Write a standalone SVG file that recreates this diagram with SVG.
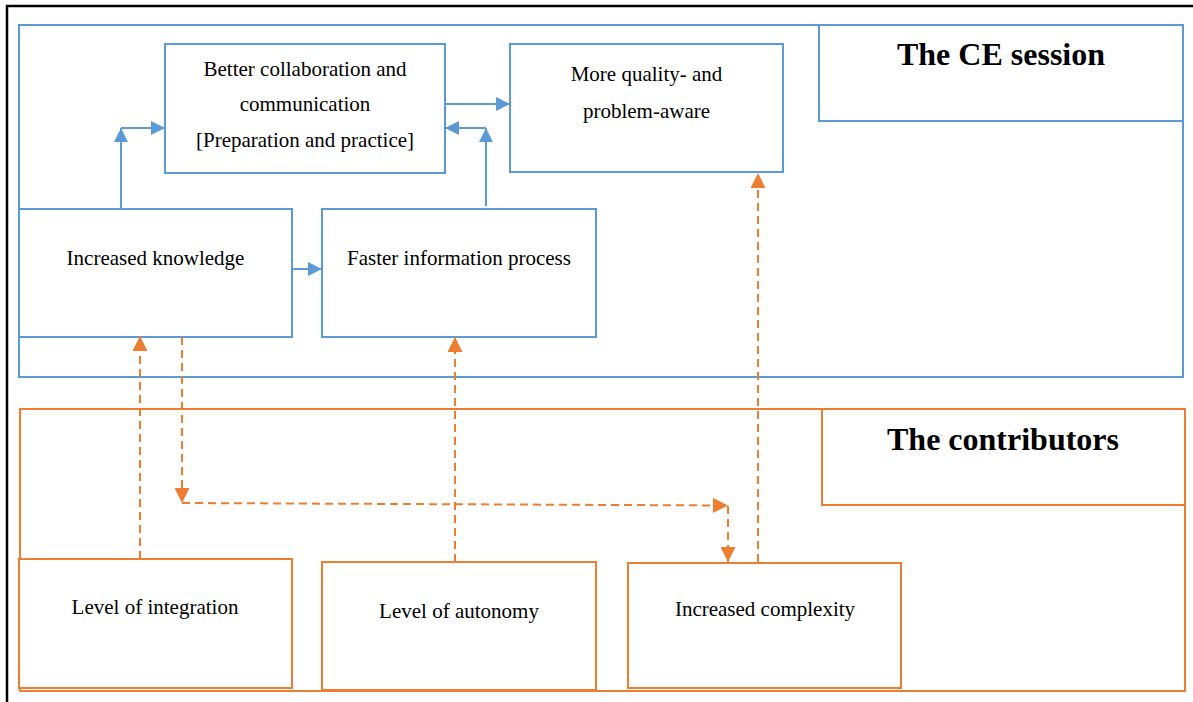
<svg xmlns="http://www.w3.org/2000/svg" width="1193" height="702" viewBox="0 0 1193 702">
<defs>
<style>
.frame{fill:none;stroke:#000;stroke-width:2.5}
.b{fill:#fff;stroke:#5B9BD5;stroke-width:2}
.bo{fill:none;stroke:#5B9BD5;stroke-width:2}
.o{fill:#fff;stroke:#ED7D31;stroke-width:2}
.oo{fill:none;stroke:#ED7D31;stroke-width:2}
.t{font-family:"Liberation Serif","Times New Roman",serif;font-size:21px;fill:#000;text-anchor:middle}
.h{font-family:"Liberation Serif","Times New Roman",serif;font-size:32px;font-weight:bold;fill:#000;text-anchor:middle}
.ba{fill:none;stroke:#5B9BD5;stroke-width:2}
.oa{fill:none;stroke:#ED7D31;stroke-width:2;stroke-dasharray:8,5}
</style>
<marker id="ab" viewBox="0 0 14 14" refX="14" refY="7" markerWidth="14" markerHeight="14" markerUnits="userSpaceOnUse" orient="auto">
<path d="M0,0 L14,7 L0,14 Z" fill="#5B9BD5"/>
</marker>
<marker id="ao" viewBox="0 0 15 15" refX="15" refY="7.5" markerWidth="15" markerHeight="15" markerUnits="userSpaceOnUse" orient="auto">
<path d="M0,0 L15,7.5 L0,15 Z" fill="#ED7D31"/>
</marker>
</defs>
<rect width="1193" height="702" fill="#fff"/>
<rect class="frame" x="7" y="6" width="1200" height="720"/>

<g id="ce-session">
<rect class="bo" x="19" y="25" width="1164" height="352"/>
<rect class="bo" x="819" y="25" width="364" height="96"/>
<text class="h" x="1001" y="65">The CE session</text>
</g>

<g id="contributors">
<rect class="oo" x="20" y="409" width="1165" height="282"/>
<rect class="oo" x="822" y="409" width="363" height="96"/>
<text class="h" x="1003" y="450">The contributors</text>
</g>

<g id="better-collaboration">
<rect class="b" x="165" y="44" width="280" height="129"/>
<text class="t" x="305" y="76">Better collaboration and</text>
<text class="t" x="305" y="111">communication</text>
<text class="t" x="305" y="147">[Preparation and practice]</text>
</g>

<g id="more-quality">
<rect class="b" x="510" y="44" width="273" height="128"/>
<text class="t" x="646.5" y="81">More quality- and</text>
<text class="t" x="646.5" y="118">problem-aware</text>
</g>

<g id="increased-knowledge">
<rect class="b" x="19" y="209" width="273" height="128"/>
<text class="t" x="155.5" y="265">Increased knowledge</text>
</g>

<g id="faster-information">
<rect class="b" x="322" y="209" width="274" height="128"/>
<text class="t" x="459" y="265">Faster information process</text>
</g>

<g id="level-integration">
<rect class="o" x="19" y="559" width="273" height="129"/>
<text class="t" x="155" y="614">Level of integration</text>
</g>

<g id="level-autonomy">
<rect class="o" x="322" y="562" width="274" height="128"/>
<text class="t" x="459" y="618">Level of autonomy</text>
</g>

<g id="increased-complexity">
<rect class="o" x="628" y="563" width="273" height="125"/>
<text class="t" x="765" y="616">Increased complexity</text>
</g>

<g id="connectors">
<path class="ba" d="M121,209 L121,128" marker-end="url(#ab)"/>
<path class="ba" d="M121,128 L165,128" marker-end="url(#ab)"/>
<path class="ba" d="M445,104 L510,104" marker-end="url(#ab)"/>
<path class="ba" d="M486,206 L486,128" marker-end="url(#ab)"/>
<path class="ba" d="M486,128 L445,128" marker-end="url(#ab)"/>
<path class="ba" d="M292,269 L322,269" marker-end="url(#ab)"/>

<path class="oa" d="M140,559 L140,336" marker-end="url(#ao)"/>
<path class="oa" d="M182,337 L182,503" marker-end="url(#ao)"/>
<path class="oa" d="M182,503 L728,505.5" marker-end="url(#ao)"/>
<path class="oa" d="M728,506 L728,562" marker-end="url(#ao)"/>
<path class="oa" d="M455,562 L455,337" marker-end="url(#ao)"/>
<path class="oa" d="M758,562 L758,173" marker-end="url(#ao)"/>
</g>
</svg>
